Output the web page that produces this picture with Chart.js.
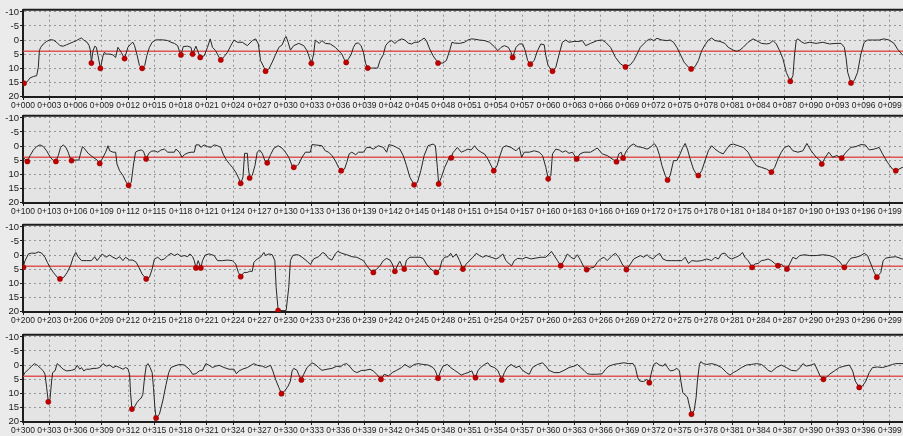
<!DOCTYPE html>
<html>
<head>
<meta charset="utf-8">
<script src="https://cdn.jsdelivr.net/npm/chart.js@4.4.0/dist/chart.umd.min.js"></script>
<style>
  html, body { margin: 0; padding: 0; width: 903px; height: 436px; overflow: hidden; background: #ebebeb; }
  .panel { position: absolute; left: 0; }
</style>
</head>
<body>
<canvas class="panel" id="panel0" width="930" height="110" style="top:3px"></canvas>
<canvas class="panel" id="panel1" width="930" height="110" style="top:109px"></canvas>
<canvas class="panel" id="panel2" width="930" height="110" style="top:218px"></canvas>
<canvas class="panel" id="panel3" width="930" height="110" style="top:328px"></canvas>
<script>
// chainage where each strip starts
const panelStarts = [0, 100, 200, 300];
const stationTicks = [0, 3, 6, 9, 12, 15, 18, 21, 24, 27, 30, 33, 36, 39, 42, 45, 48, 51, 54, 57, 60, 63, 66, 69, 72, 75, 78, 81, 84, 87, 90, 93, 96, 99];
const levelTicks = [-10, -5, 0, 5, 10, 15, 20];
const threshold = 4;

// [offset from strip start, value]
const profile1 = [
  [0,15.6],[0.43,15],[0.81,13.5],[1.19,13],[1.56,12.7],[1.75,9.7],[1.87,3.8],[2.02,2.6],[2.32,1.4],[2.7,0.5],[3.08,-0.1],[3.46,0],[3.84,0.8],[4.22,2],[4.59,2.2],[4.97,1.7],[5.35,1.2],[5.73,0.7],[6.11,0.2],[6.49,-0.5],[6.68,-0.7],[6.94,0],[7.32,0.8],[7.55,2],[7.7,3.8],[7.81,8.0],[8.0,3.8],[8.2,2.2],[8.38,2.6],[8.57,5.6],[8.84,10.1],[9.14,5.6],[9.29,4.4],[9.52,5],[9.9,5],[10.28,5.3],[10.58,6.2],[10.84,2.6],[11.22,4.4],[11.6,6.6],[11.98,2.6],[12.36,1.2],[12.55,0.8],[12.74,2],[13.0,5],[13.3,9.1],[13.61,10.1],[13.9,9.1],[14.14,5.6],[14.44,2.6],[14.75,0.8],[15.12,0],[15.58,-0.1],[16.15,0],[16.53,0.2],[16.9,0.8],[17.28,1.2],[17.66,2],[17.85,3.8],[18.04,5.3],[18.31,2.3],[18.8,2.2],[19.18,2.6],[19.37,5.0],[19.75,2.2],[19.94,3.8],[20.24,6.2],[20.7,5.6],[21.07,2.6],[21.38,-0.4],[21.64,2.6],[22.0,3.8],[22.4,6.2],[22.59,7.1],[22.97,5.9],[23.35,4.4],[23.73,2],[24.1,0],[24.48,0.8],[25.05,0.8],[25.62,2.0],[26.2,0.2],[26.57,-0.4],[26.88,1.4],[27.13,7.3],[27.51,9.7],[27.7,11.1],[28.08,10.3],[28.46,7.9],[28.84,5.2],[29.22,2.6],[29.6,1.7],[29.9,-0.7],[30.05,-1.2],[30.28,0.8],[30.54,3.6],[30.92,2],[31.49,1.2],
  [32.06,2.0],[32.44,3.8],[32.82,7.3],[32.95,8.3],[33.19,5.0],[33.38,0],[33.57,0.5],[33.84,1.2],[34.14,0.2],[34.52,1.2],[35.09,1.4],[35.66,2.6],[36.04,3.8],[36.41,5.0],[36.72,7.1],[36.91,8.0],[37.17,6.7],[37.47,5.2],[37.74,2.6],[38.0,1.2],[38.31,1.1],[38.61,2.0],[38.88,4.4],[39.14,8.5],[39.37,10.0],[39.82,10.0],[40.5,10.0],[40.77,7.3],[41.15,5.2],[41.41,2.0],[41.72,0.8],[42.1,0.2],[42.47,1.2],[42.85,0.2],[43.23,-0.4],[43.61,0],[43.99,1.1],[44.37,1.4],[44.75,0.8],[45.13,0.8],[45.5,0],[45.81,-0.7],[46.07,0.2],[46.45,3.2],[46.83,5.6],[47.21,7.3],[47.4,8.2],[47.97,8.2],[48.35,7.3],[48.72,3.8],[48.99,0.8],[49.29,1.1],[49.86,1.2],[50.43,0.8],[50.81,0],[51.19,-0.4],[51.57,-0.3],[52.13,0],[52.7,0.2],[53.27,0.8],[53.84,2.4],[54.22,3.8],[54.6,2.6],[54.97,2.0],[55.43,2.6],[55.73,4.4],[55.92,6.2],[56.3,2.6],[56.68,1.4],[57.06,1.4],[57.36,3.8],[57.63,7.3],[57.93,8.6],[58.38,7.3],[58.76,3.8],[59.14,1.4],[59.52,1.7],[59.71,5.6],[59.97,9.1],[60.47,11.1],[60.85,9.7],[61.23,5.0],[61.6,0.8],[61.98,0],[62.36,0.8],[62.93,0.5],[63.5,0.5],[63.88,0.2],[64.26,2.0],[64.82,1.2],[65.58,0.2],
  [66.15,0],[66.53,0.8],[67.1,2.6],[67.66,6.2],[68.23,8.5],[68.8,9.6],[69.37,8.8],[69.75,7.3],[70.13,5.0],[70.5,2.6],[70.88,1.4],[71.26,0.2],[71.64,-0.4],[72.02,0.2],[72.4,-0.6],[72.97,0],[73.53,0.2],[73.91,0],[74.29,0.8],[74.67,2.6],[75.05,5.0],[75.5,7.9],[76.0,9.7],[76.3,10.3],[76.75,9.5],[77.13,7.3],[77.51,3.8],[77.89,1.7],[78.27,0],[78.65,-0.7],[79.03,0.2],[79.6,0.5],[80.16,1.2],[80.54,2.6],[81.11,3.6],[81.49,4.0],[81.87,3.6],[82.25,2.6],[82.81,0.8],[83.38,-0.4],[83.76,0.2],[84.33,1.2],[84.9,1.4],[85.28,1.2],[85.66,0.2],[86.03,1.4],[86.41,3.8],[86.79,6.7],[87.17,11.5],[87.63,14.7],[87.93,12.7],[88.12,5.0],[88.31,0],[88.5,-0.4],[88.88,0.6],[89.25,1.2],[89.82,0.8],[90.58,1.2],[91.34,0.8],[92.1,1.4],[92.85,1.2],[93.42,1.2],[93.8,2.6],[93.99,6.2],[94.18,11.5],[94.56,15.3],[94.94,14.4],[95.31,11.5],[95.69,5.0],[96.07,0.8],[96.45,0],[97.02,0],[97.78,0],[98.34,-0.4],[98.91,0],[99.48,1.2],[99.86,3.2],[100.5,5.5]
];
const dips1 = [[0.12,15.4],[7.81,8.2],[8.84,10.1],[11.6,6.6],[13.61,10.1],[18.04,5.3],[19.37,5.0],[20.24,6.2],[22.59,7.1],[27.7,11.1],[32.93,8.3],[36.91,8.0],[39.37,10.0],[47.4,8.2],[55.92,6.2],[57.93,8.6],[60.47,11.1],[68.8,9.6],[76.3,10.3],[87.63,14.7],[94.56,15.3]];

const profile2 = [
  [0,4.0],[0.5,5.5],[0.81,3.4],[1.19,1.4],[1.56,0.2],[1.94,-0.4],[2.32,0.2],[2.7,1.7],[3.08,3.8],[3.46,5.2],[3.76,5.5],[4.03,3.4],[4.29,0.5],[4.59,-0.4],[4.9,0.5],[5.16,2.2],[5.35,4.0],[5.54,5.2],[5.92,5.0],[6.38,5.0],[6.56,2.8],[6.79,0.2],[7.06,1.1],[7.44,2.6],[8.0,4.0],[8.46,5.0],[8.76,6.2],[9.14,4.0],[9.44,2.2],[9.71,-0.1],[9.9,1.7],[10.28,2.2],[10.58,2.2],[10.73,6.4],[11.03,8.8],[11.41,10.5],[11.79,12.9],[12.06,14.0],[12.36,12.9],[12.63,6.4],[12.85,2.2],[13.12,1.7],[13.5,1.4],[13.76,1.9],[14.06,4.6],[14.37,2.6],[14.64,1.9],[15.01,1.7],[15.39,2.2],[15.77,1.4],[16.15,1.1],[16.53,2.2],[16.9,2.2],[17.28,2.2],[17.47,1.1],[17.85,2.2],[18.16,4.0],[18.42,3.1],[18.8,2.5],[19.18,2.2],[19.56,2.2],[19.75,-0.4],[20.13,-0.4],[20.31,0.5],[20.69,-0.4],[21.07,0.2],[21.45,0.5],[21.83,-0.4],[22.21,-0.1],[22.59,0.5],[22.85,2.8],[23.15,4.6],[23.53,6.2],[23.91,7.6],[24.29,9.3],[24.67,11.7],[24.86,13.3],[25.12,11.1],[25.31,2.6],[25.62,2.6],[25.73,7.6],[25.88,11.4],[26.18,10.5],[26.49,7.0],[26.75,2.2],[27.02,1.4],[27.32,2.6],[27.62,5.2],[27.89,6.0],[28.27,3.1],[28.65,0.8],[29.14,-0.1],[29.6,0.8],[29.97,2.2],[30.35,4.0],[30.73,7.0],[30.92,7.6],[31.3,7.0],[31.49,6.4],
  [31.87,4.0],[32.25,2.2],[32.82,2.2],[33.0,-0.5],[33.38,-0.4],[34.14,-0.1],[34.52,1.7],[34.9,2.2],[35.28,3.4],[35.66,5.2],[36.04,7.6],[36.34,8.8],[36.72,8.2],[36.98,5.8],[37.25,2.8],[37.55,2.2],[38.0,3.1],[38.31,2.2],[38.88,2.2],[39.26,0.5],[39.63,0.5],[40.01,1.1],[40.58,-0.1],[41.15,0.5],[41.53,2.2],[41.79,-0.5],[42.29,-0.1],[42.66,0.5],[43.04,1.1],[43.42,3.4],[43.8,7.0],[44.18,11.1],[44.67,13.8],[45.05,12.9],[45.43,8.8],[45.81,3.4],[46.26,-0.1],[46.83,-0.7],[47.1,-0.1],[47.32,7.6],[47.47,13.5],[47.78,11.1],[48.16,7.6],[48.54,5.0],[48.75,3.6],[48.91,4.2],[49.1,2.4],[49.29,1.7],[49.6,0.5],[50.05,2.2],[50.43,1.7],[50.81,1.1],[51.19,1.4],[51.57,-0.1],[51.94,1.4],[52.32,2.2],[52.7,2.8],[53.08,4.6],[53.46,7.0],[53.76,8.8],[54.14,7.0],[54.41,4.0],[54.79,0.5],[55.16,-0.1],[55.73,0.5],[56.3,1.7],[56.68,0.5],[56.94,4.0],[57.25,2.2],[57.82,2.2],[58.38,1.7],[58.95,2.2],[59.33,3.4],[59.71,7.6],[59.98,11.7],[60.28,10.5],[60.47,2.8],[60.85,1.1],[61.23,1.4],[61.6,2.2],[61.98,1.7],[62.36,2.6],[62.74,2.2],[63.23,4.6],[63.61,2.8],[64.07,2.2],[64.82,2.2],[65.39,1.1],[65.58,0.7],
  [66.15,2.8],[66.72,3.4],[67.28,4.6],[67.78,5.6],[68.04,2.8],[68.31,2.2],[68.53,4.3],[68.91,1.7],[69.37,-0.1],[69.75,-0.7],[70.13,0.2],[70.7,0.5],[71.26,1.1],[71.64,0.5],[72.09,-0.9],[72.4,0.5],[72.7,3.4],[72.97,7.0],[73.35,10.5],[73.61,12.1],[73.91,10.5],[74.29,5.2],[74.67,5.2],[75.05,2.8],[75.35,0.5],[75.62,-0.9],[75.88,1.1],[76.19,4.6],[76.56,8.2],[76.87,9.9],[77.13,10.5],[77.51,8.8],[77.89,5.2],[78.27,1.7],[78.65,-0.1],[79.03,1.1],[79.52,2.2],[79.97,2.8],[80.35,1.1],[80.73,-0.4],[81.11,-0.7],[81.68,-0.1],[82.25,0.5],[82.81,2.2],[83.19,4.6],[83.76,7.0],[84.33,7.6],[84.9,8.2],[85.47,9.3],[85.85,7.6],[86.22,4.6],[86.6,2.2],[86.98,0.5],[87.47,-0.1],[87.93,1.7],[88.5,2.2],[89.07,1.7],[89.52,-0.9],[90.01,1.7],[90.58,4.0],[90.96,4.9],[91.22,6.4],[91.64,4.0],[92.02,2.2],[92.47,4.0],[92.93,3.4],[93.5,4.3],[93.99,2.2],[94.56,0.5],[95.13,0.2],[95.69,-0.5],[96.19,-0.4],[96.64,1.4],[97.21,1.1],[97.78,0.5],[98.16,2.8],[98.72,5.8],[99.29,8.2],[99.67,8.8],[100.5,7.5]
];
const dips2 = [[0.5,5.5],[3.76,5.5],[5.54,5.2],[8.76,6.2],[12.06,14.0],[14.06,4.6],[24.86,13.3],[25.88,11.4],[27.89,6.0],[30.92,7.6],[36.34,8.8],[44.67,13.8],[47.47,13.5],[48.91,4.2],[53.76,8.8],[59.98,11.7],[63.23,4.6],[67.78,5.6],[68.53,4.3],[73.61,12.1],[77.13,10.5],[85.47,9.3],[91.22,6.4],[93.5,4.3],[99.67,8.8]];

const profile3 = [
  [0,4.4],[0.24,2.0],[0.62,-0.4],[1.0,-0.7],[1.38,-0.6],[1.75,-1.1],[2.13,-0.7],[2.51,0.8],[2.78,2.6],[3.08,4.4],[3.46,6.2],[3.91,7.9],[4.22,8.5],[4.67,7.9],[5.05,6.2],[5.43,3.8],[5.73,0.8],[6.03,-0.9],[6.29,0.6],[6.68,2.0],[7.25,2.0],[7.81,2.0],[8.19,0.6],[8.46,2.0],[8.76,0.8],[9.06,-0.4],[9.44,0.8],[9.9,0],[10.28,0.8],[10.66,1.4],[11.03,0.6],[11.41,2.0],[11.72,0.8],[12.17,1.8],[12.55,1.8],[12.93,2.6],[13.23,4.4],[13.61,6.8],[14.07,8.5],[14.44,7.9],[14.75,5.0],[15.01,1.4],[15.39,0.8],[15.77,1.8],[16.15,1.4],[16.53,0.2],[16.9,-0.6],[17.28,0.2],[17.66,-0.4],[18.04,0.5],[18.42,0.2],[18.8,0.6],[19.06,-0.4],[19.37,0.6],[19.56,2.0],[19.75,4.6],[20.01,2.0],[20.31,4.6],[20.5,2.0],[20.81,0],[21.26,-0.4],[21.83,0.2],[22.21,2.0],[22.78,2.0],[23.35,1.8],[23.91,2.0],[24.29,3.2],[24.6,6.2],[24.86,7.7],[25.24,6.2],[25.62,6.2],[25.88,5.8],[26.18,5.8],[26.37,2.6],[26.75,1.4],[27.13,0.8],[27.51,-0.9],[27.7,0.2],[28.08,-0.4],[28.46,-0.1],[28.76,2.0],[28.91,11.5],[29.14,19.8],[29.4,19.8],[30.05,19.8],[30.35,11.5],[30.54,2.0],[30.8,0.2],[31.11,-0.1],[31.49,0],
  [31.87,0.8],[32.44,2.2],[32.82,3.4],[33.19,1.4],[33.76,0.6],[34.22,-0.9],[34.52,-0.4],[34.9,1.2],[35.28,1.8],[35.66,-0.4],[35.96,-1.3],[36.41,-0.6],[36.98,-0.1],[37.55,0.6],[38.12,0.8],[38.5,1.4],[38.88,2.0],[39.26,3.8],[39.63,5.3],[40.01,6.2],[40.39,5.0],[40.77,3.8],[41.15,2.0],[41.53,1.2],[41.91,1.8],[42.17,3.2],[42.47,5.8],[42.85,3.2],[43.04,2.2],[43.31,4.1],[43.54,5.0],[43.8,1.8],[44.18,0.8],[44.75,0.8],[45.32,0.8],[45.69,1.2],[46.07,3.2],[46.45,4.6],[46.83,5.6],[47.21,6.2],[47.59,5.0],[47.85,2.0],[48.16,0.8],[48.54,0.6],[48.84,-0.6],[49.1,0.8],[49.48,-0.4],[49.86,2.0],[50.24,5.0],[50.62,3.2],[51.0,2.0],[51.38,0.8],[51.76,-0.6],[52.13,0.2],[52.51,0.8],[52.89,0.2],[53.46,0.8],[54.03,1.4],[54.41,0.8],[54.79,-0.4],[55.16,2.0],[55.54,3.2],[55.81,3.8],[56.11,2.0],[56.49,1.2],[57.06,1.4],[57.44,0.8],[58.0,1.4],[58.57,1.1],[59.14,0.8],[59.71,0.8],[60.09,-0.4],[60.35,-1.3],[60.66,0.2],[61.04,2.0],[61.41,3.8],[61.79,2.0],[62.17,-0.4],[62.55,0.8],[62.93,1.4],[63.31,-0.1],[63.69,2.0],[64.07,4.4],[64.37,5.2],[64.82,4.6],[65.2,4.4],[65.58,2.6],
  [65.96,1.4],[66.34,0.8],[66.72,2.0],[67.28,0.2],[67.66,-0.6],[68.04,0.8],[68.42,3.2],[68.91,5.2],[69.37,3.2],[69.75,1.4],[70.13,0.8],[70.5,0.2],[70.88,0.8],[71.26,-0.1],[71.56,0.8],[71.94,1.4],[72.32,0.2],[72.7,-0.6],[73.08,1.4],[73.53,2.0],[74.1,2.0],[74.67,2.0],[75.24,2.0],[75.62,0.8],[76.0,3.0],[76.38,2.0],[76.94,2.2],[77.51,2.0],[78.08,1.4],[78.65,2.0],[79.03,0.8],[79.41,1.4],[79.78,-0.4],[80.16,-0.7],[80.54,0.8],[80.92,1.4],[81.41,0.8],[81.79,0.2],[82.17,-0.9],[82.44,0.8],[82.81,2.0],[83.08,3.4],[83.27,4.4],[83.57,3.2],[83.95,3.0],[84.33,2.0],[84.71,1.8],[85.09,1.4],[85.47,2.0],[85.85,3.0],[86.22,3.8],[86.6,3.2],[86.98,4.4],[87.25,5.0],[87.55,3.2],[87.93,0.8],[88.31,1.4],[88.69,0.2],[89.25,-0.1],[89.82,0.2],[90.58,0.2],[91.34,-0.1],[92.1,0.2],[92.66,0.8],[93.16,2.0],[93.61,3.8],[93.8,4.4],[94.18,2.6],[94.56,1.1],[95.13,0.8],[95.69,0.2],[96.07,-0.6],[96.45,0.2],[96.83,3.2],[97.21,6.2],[97.51,7.9],[97.97,6.2],[98.23,2.0],[98.53,1.1],[99.1,0.8],[99.67,0.6],[100.5,1.5]
];
const dips3 = [[0.05,4.4],[4.22,8.5],[14.07,8.5],[19.75,4.6],[20.31,4.6],[24.86,7.7],[29.14,19.8],[40.01,6.2],[42.47,5.8],[43.54,5.0],[47.21,6.2],[50.24,5.0],[61.41,3.8],[64.37,5.2],[68.91,5.2],[83.27,4.4],[86.22,3.8],[87.25,5.0],[93.8,4.4],[97.51,7.9]];

const profile4 = [
  [0,3.9],[0.24,2.7],[0.62,1.5],[1.0,0.4],[1.3,-0.5],[1.64,0.1],[2.02,1.2],[2.32,2.1],[2.51,3.3],[2.7,8.0],[2.89,13.1],[3.08,12.2],[3.27,5.7],[3.38,2.7],[3.65,2.1],[3.91,-0.5],[4.22,0.4],[4.59,1.5],[4.97,2.1],[5.54,1.9],[5.92,1.5],[6.19,0.1],[6.49,1.5],[6.68,0.9],[6.94,2.1],[7.25,1.5],[7.62,1.5],[8.0,1.2],[8.38,1.2],[8.76,0.9],[9.14,-0.5],[9.52,0.4],[9.9,0],[10.28,0.9],[10.66,0.4],[11.03,0.9],[11.41,1.5],[11.72,0.9],[11.98,1.3],[12.17,3.3],[12.28,9.8],[12.44,15.7],[12.74,14.9],[13.0,13.4],[13.31,12.2],[13.5,11.8],[13.69,10.4],[13.88,4.5],[14.07,0.4],[14.26,-0.5],[14.52,0.9],[14.75,2.7],[14.9,8.0],[15.06,15.1],[15.2,18.9],[15.58,17.5],[15.96,12.8],[16.34,6.9],[16.64,2.7],[16.9,0.9],[17.28,0.4],[17.85,-0.2],[18.42,0],[18.99,1.5],[19.37,3.3],[19.75,3.1],[20.13,2.1],[20.5,1.9],[20.88,-0.5],[21.26,0.1],[21.64,0.9],[22.02,0.4],[22.4,0.1],[22.97,0.9],[23.53,1.5],[24.1,1.5],[24.37,3.1],[24.67,2.1],[25.05,1.5],[25.62,0.9],[26.37,-0.5],[26.75,0.1],[27.32,0.4],[27.7,0.9],[28.27,0.1],[28.53,2.1],[28.84,5.1],[29.22,8.0],[29.52,10.2],[29.9,9.2],[30.28,7.5],[30.54,5.7],[30.73,2.1],[30.92,1.2],[31.3,1.9],[31.49,3.5],
  [31.79,5.3],[32.06,3.3],[32.44,0.9],[33.0,-0.8],[33.38,-0.2],[33.76,0.9],[34.14,1.9],[34.71,1.5],[35.28,1.2],[35.85,0.4],[36.22,0.7],[36.6,-0.2],[36.98,-0.5],[37.36,0.7],[37.74,2.1],[38.12,2.7],[38.69,1.9],[39.07,1.9],[39.63,1.5],[40.01,2.1],[40.39,3.3],[40.88,5.1],[41.26,3.3],[41.72,3.9],[42.17,2.7],[42.66,1.9],[43.23,0.9],[43.61,-0.2],[44.18,0.9],[44.67,-0.2],[45.13,-0.5],[45.69,-0.2],[46.26,0],[46.83,0.9],[47.1,2.1],[47.4,4.7],[47.7,2.1],[47.97,0.4],[48.46,-0.2],[48.84,0.9],[49.29,1.9],[49.67,2.7],[50.05,3.6],[50.43,3.1],[50.81,2.7],[51.26,2.1],[51.49,3.9],[51.68,4.5],[51.94,2.1],[52.25,0.9],[52.7,-0.2],[53.08,-0.8],[53.38,0.4],[53.84,0.9],[54.22,1.9],[54.41,3.3],[54.67,5.3],[54.97,2.7],[55.28,0.9],[55.73,-0.2],[56.3,0.9],[56.68,0.4],[57.06,1.9],[57.44,2.7],[57.82,3.3],[58.19,0.9],[58.76,-0.2],[59.33,-0.8],[59.71,0.4],[60.09,1.9],[60.66,2.7],[61.23,2.7],[61.79,1.9],[62.36,0.9],[62.93,0.4],[63.31,-0.2],[63.69,0.9],[64.07,1.9],[64.45,3.1],[64.82,3.3],[65.39,3.3],[65.58,3.3],
  [66.15,3.1],[66.53,1.5],[66.91,0.4],[67.47,-0.2],[68.04,-0.5],[68.61,-0.8],[69.18,-0.5],[69.67,-0.5],[69.94,0.9],[70.2,4.5],[70.43,5.7],[70.88,5.9],[71.26,5.1],[71.53,6.3],[71.72,3.3],[72.02,-0.2],[72.32,-0.8],[72.7,0],[73.08,0.4],[73.35,-0.5],[73.61,0.9],[73.91,2.1],[74.29,1.9],[74.67,1.2],[74.97,2.1],[75.13,5.7],[75.35,9.8],[75.62,10.7],[75.88,11.4],[76.11,14.6],[76.34,17.5],[76.64,16.3],[76.87,11.6],[77.02,5.7],[77.25,-0.2],[77.4,-1.2],[77.7,-0.5],[78.08,-0.2],[78.65,-0.5],[79.22,0],[79.78,0.9],[80.35,2.7],[80.73,3.6],[81.11,2.7],[81.49,2.1],[82.06,0.9],[82.63,0],[83.19,-0.2],[83.76,-0.5],[84.33,-0.2],[84.71,0.7],[85.09,1.9],[85.47,2.4],[86.03,0.9],[86.6,0],[87.17,0.9],[87.74,1.9],[88.31,2.1],[88.76,0.9],[89.07,-0.5],[89.44,0.4],[90.01,0],[90.39,-0.5],[90.77,2.1],[91.03,3.9],[91.41,5.1],[91.72,4.5],[92.1,3.3],[92.66,2.1],[93.23,0.9],[93.8,0.4],[94.37,0],[94.75,2.1],[95.05,5.7],[95.5,8.0],[95.88,7.5],[96.26,5.7],[96.64,2.7],[97.02,0.9],[97.59,0.7],[98.16,0.9],[98.72,0.4],[99.29,-0.2],[99.67,-0.5],[100.5,-0.5]
];
const dips4 = [[2.89,13.1],[12.44,15.7],[15.2,18.9],[29.52,10.2],[31.79,5.3],[40.88,5.1],[47.4,4.7],[51.68,4.5],[54.67,5.3],[71.53,6.3],[76.34,17.5],[91.41,5.1],[95.5,8.0]];

const profiles = [profile1, profile2, profile3, profile4];
const dips = [dips1, dips2, dips3, dips4];

const FONT = "'Liberation Sans', Arial, sans-serif";
const PX_PER_UNIT = 8.8;

// plot background and top frame line
const framePlugin = {
  id: 'frame',
  beforeDraw(chart) {
    const { ctx, chartArea: a } = chart;
    ctx.save();
    ctx.fillStyle = '#e4e4e4';
    ctx.fillRect(a.left, a.top, a.right - a.left, a.bottom - a.top);
    ctx.restore();
  },
  afterDraw(chart) {
    const { ctx, chartArea: a } = chart;
    ctx.save();
    ctx.strokeStyle = '#1e1e1e';
    ctx.lineWidth = 2;
    ctx.beginPath();
    ctx.moveTo(a.left, a.top);
    ctx.lineTo(a.right, a.top);
    ctx.stroke();
    ctx.restore();
  }
};

function pad3(n) {
  return String(n).padStart(3, '0');
}

function renderPanel(i) {
  const start = panelStarts[i];
  const canvas = document.getElementById('panel' + i);
  const span = (canvas.width - 23) / PX_PER_UNIT;
  const toPoints = arr => arr.map(([u, v]) => ({ x: start + u, y: v }));

  new Chart(canvas, {
    type: 'line',
    data: {
      datasets: [
        {
          data: toPoints(dips[i]),
          showLine: false,
          pointRadius: 2.6,
          pointBackgroundColor: '#c00000',
          pointBorderColor: '#9a0000',
          pointBorderWidth: 0.5,
          order: 0
        },
        {
          data: toPoints(profiles[i]),
          borderColor: '#262626',
          borderWidth: 1,
          pointRadius: 0,
          tension: 0,
          order: 1
        },
        {
          data: [{ x: start, y: threshold }, { x: start + span, y: threshold }],
          borderColor: 'rgba(226, 60, 60, 0.85)',
          borderWidth: 1.5,
          pointRadius: 0,
          order: 2
        }
      ]
    },
    options: {
      responsive: false,
      animation: false,
      events: [],
      layout: { padding: { top: 6, left: 0, right: 0, bottom: 0 } },
      plugins: { legend: { display: false }, tooltip: { enabled: false } },
      scales: {
        x: {
          type: 'linear',
          min: start,
          max: start + span,
          afterBuildTicks(scale) {
            scale.ticks = stationTicks.map(t => ({ value: start + t }));
          },
          afterFit(scale) { scale.height = 16; },
          ticks: {
            autoSkip: false,
            maxRotation: 0,
            minRotation: 0,
            padding: 1,
            color: '#1a1a1a',
            font: { family: FONT, size: 8.5 },
            callback: v => '0+' + pad3(v)
          },
          grid: { color: '#959595', lineWidth: 1, tickLength: 3, tickColor: '#1e1e1e' },
          border: { display: true, color: '#1e1e1e', width: 2, dash: [2, 3] }
        },
        y: {
          reverse: true,
          min: -10.8,
          max: 20.3,
          afterBuildTicks(scale) {
            scale.ticks = levelTicks.map(t => ({ value: t }));
          },
          afterFit(scale) { scale.width = 23; },
          ticks: {
            autoSkip: false,
            padding: 1,
            color: '#1a1a1a',
            font: { family: FONT, size: 9.5 }
          },
          grid: { color: '#959595', lineWidth: 1, tickLength: 3, tickColor: '#1e1e1e' },
          border: { display: true, color: '#1e1e1e', width: 2, dash: [2, 3] }
        }
      }
    },
    plugins: [framePlugin]
  });
}

for (let i = 0; i < panelStarts.length; i++) renderPanel(i);
</script>
</body>
</html>
